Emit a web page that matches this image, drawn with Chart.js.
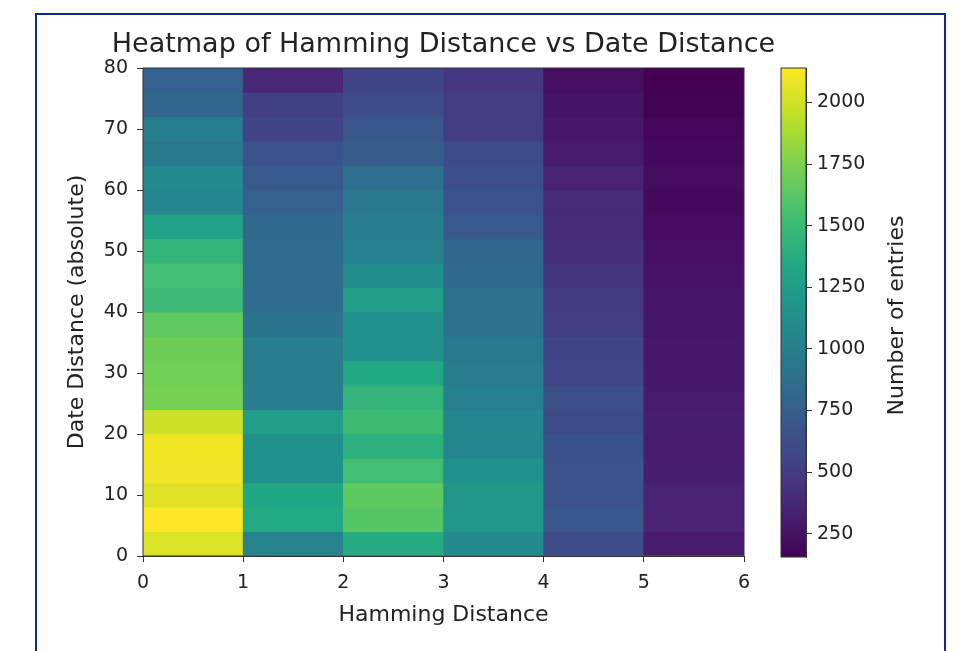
<!DOCTYPE html>
<html>
<head>
<meta charset="utf-8">
<title>Heatmap of Hamming Distance vs Date Distance</title>
<script src="https://cdn.jsdelivr.net/npm/chart.js@4.4.1/dist/chart.umd.min.js"></script>
<style>
  html, body { margin: 0; padding: 0; background: #fff; }
  body { width: 975px; height: 651px; position: relative; overflow: hidden; }
  .frame { position: absolute; left: 35px; top: 13px; width: 907px; height: 700px; border: 2px solid #0b2d7c; }
  .holder { position: absolute; top: 0; height: 651px; }
  #heatWrap { left: 0; width: 975px; }
  #barWrap { left: 760px; width: 215px; }
</style>
</head>
<body>
<div class="frame"></div>
<div class="holder" id="heatWrap"><canvas id="heatmap"></canvas></div>
<div class="holder" id="barWrap"><canvas id="colorbar"></canvas></div>
<script>
// bin edges
const hammingEdges = [0, 1, 2, 3, 4, 5, 6];
const dateEdges = [0, 4, 8, 12, 16, 20, 24, 28, 32, 36, 40, 44, 48, 52, 56, 60, 64, 68, 72, 76, 80];

// counts per Hamming distance bin, date bins from 0 upwards
const countsH0 = [2030, 2140, 2050, 2090, 2100, 1990, 1730, 1710, 1700, 1650, 1490, 1530, 1450, 1290, 1070, 1090, 950, 990, 810, 770];
const countsH1 = [1030, 1360, 1340, 1150, 1150, 1250, 990, 1000, 990, 910, 850, 850, 850, 830, 770, 710, 670, 550, 530, 370];
const countsH2 = [1370, 1610, 1640, 1530, 1410, 1510, 1450, 1350, 1150, 1150, 1250, 1110, 1010, 990, 950, 870, 730, 690, 610, 550];
const countsH3 = [1090, 1190, 1200, 1150, 1070, 1060, 1010, 970, 950, 890, 890, 830, 810, 710, 670, 630, 610, 510, 510, 470];
const countsH4 = [610, 690, 670, 670, 650, 610, 630, 570, 550, 510, 490, 450, 420, 400, 390, 340, 300, 280, 260, 230];
const countsH5 = [300, 350, 340, 320, 310, 320, 300, 290, 280, 270, 270, 250, 230, 220, 200, 210, 200, 180, 160, 155];

const dateTicks = [0, 10, 20, 30, 40, 50, 60, 70, 80];
const colorbarTicks = [250, 500, 750, 1000, 1250, 1500, 1750, 2000];

const TITLE = 'Heatmap of Hamming Distance vs Date Distance';
const X_LABEL = 'Hamming Distance';
const Y_LABEL = 'Date Distance (absolute)';
const CBAR_LABEL = 'Number of entries';

const FONT = 'DejaVu Sans';
const TEXT = '#222';
const AXIS = '#333';

// viridis colormap
const viridisStops = ['#440154', '#482475', '#414487', '#355f8d', '#2a788e', '#21918c',
  '#22a884', '#44bf70', '#7ad151', '#bddf26', '#fde725'];

function hexRgb(h) {
  return [1, 3, 5].map(i => parseInt(h.slice(i, i + 2), 16));
}

function viridis(t) {
  t = Math.min(1, Math.max(0, t));
  const pos = t * (viridisStops.length - 1);
  const i = Math.min(Math.floor(pos), viridisStops.length - 2);
  const f = pos - i;
  const a = hexRgb(viridisStops[i]), b = hexRgb(viridisStops[i + 1]);
  const c = a.map((v, k) => Math.round(v + (b[k] - v) * f));
  return `rgb(${c[0]},${c[1]},${c[2]})`;
}

const columns = [countsH0, countsH1, countsH2, countsH3, countsH4, countsH5];
const allCounts = columns.flat();
const vmin = Math.min(...allCounts);
const vmax = Math.max(...allCounts);

const cells = [];
columns.forEach((col, i) => {
  col.forEach((n, j) => {
    cells.push({
      x: (hammingEdges[i] + hammingEdges[i + 1]) / 2,
      y: [dateEdges[j], dateEdges[j + 1]],
      n: n
    });
  });
});

// thin outline round the plot area, like matplotlib spines
const outlinePlugin = {
  id: 'outline',
  afterDraw(chart) {
    const a = chart.chartArea;
    const ctx = chart.ctx;
    ctx.save();
    ctx.strokeStyle = AXIS;
    ctx.lineWidth = 1;
    ctx.strokeRect(a.left, a.top, a.right - a.left, a.bottom - a.top);
    ctx.restore();
  }
};

// title centred over the plot area, allowed to run wider than it
const plotTitlePlugin = {
  id: 'plotTitle',
  afterDraw(chart) {
    const a = chart.chartArea;
    const ctx = chart.ctx;
    ctx.save();
    ctx.textAlign = 'center';
    ctx.textBaseline = 'middle';
    ctx.fillStyle = TEXT;
    ctx.font = `27px "${FONT}"`;
    ctx.fillText(TITLE, (a.left + a.right) / 2, a.top - 23);
    ctx.restore();
  }
};

new Chart(document.getElementById('heatmap'), {
  type: 'bar',
  data: {
    datasets: [{
      data: cells,
      backgroundColor: cells.map(c => viridis((c.n - vmin) / (vmax - vmin))),
      borderWidth: 0,
      barPercentage: 1,
      categoryPercentage: 1
    }]
  },
  options: {
    responsive: true,
    maintainAspectRatio: false,
    animation: false,
    layout: { padding: { left: 60, right: 231, top: 68, bottom: 19 } },
    plugins: {
      legend: { display: false },
      tooltip: { enabled: false }
    },
    scales: {
      x: {
        type: 'linear',
        min: hammingEdges[0],
        max: hammingEdges[hammingEdges.length - 1],
        offset: false,
        grid: { offset: false, drawOnChartArea: false, tickLength: 6, color: AXIS },
        border: { color: AXIS },
        afterBuildTicks: s => { s.ticks = hammingEdges.map(v => ({ value: v })); },
        ticks: { padding: 10, color: TEXT, maxRotation: 0, autoSkip: false, font: { family: FONT, size: 19 } },
        title: { display: true, text: X_LABEL, color: TEXT, font: { family: FONT, size: 22 }, padding: { top: 4, bottom: 4 } },
        afterFit: s => { s.height = 76; }
      },
      y: {
        type: 'linear',
        min: dateEdges[0],
        max: dateEdges[dateEdges.length - 1],
        grid: { drawOnChartArea: false, tickLength: 6, color: AXIS },
        border: { color: AXIS },
        afterBuildTicks: s => { s.ticks = dateTicks.map(v => ({ value: v })); },
        ticks: { padding: 9, color: TEXT, autoSkip: false, font: { family: FONT, size: 19 } },
        title: { display: true, text: Y_LABEL, color: TEXT, font: { family: FONT, size: 22 }, padding: { top: 4, bottom: 4 } },
        afterFit: s => { s.width = 83; }
      }
    }
  },
  plugins: [outlinePlugin, plotTitlePlugin]
});

// colorbar label reads bottom to top
const cbarLabelPlugin = {
  id: 'cbarLabel',
  afterDraw(chart) {
    const a = chart.chartArea;
    const ctx = chart.ctx;
    ctx.save();
    ctx.translate(137, (a.top + a.bottom) / 2 + 3);
    ctx.rotate(-Math.PI / 2);
    ctx.textAlign = 'center';
    ctx.textBaseline = 'middle';
    ctx.fillStyle = TEXT;
    ctx.font = `22px "${FONT}"`;
    ctx.fillText(CBAR_LABEL, 0, 0);
    ctx.restore();
  }
};

new Chart(document.getElementById('colorbar'), {
  type: 'bar',
  data: {
    labels: [''],
    datasets: [{
      data: [[vmin, vmax]],
      backgroundColor: (c) => {
        const area = c.chart.chartArea;
        if (!area) return viridisStops[0];
        const g = c.chart.ctx.createLinearGradient(0, area.bottom, 0, area.top);
        viridisStops.forEach((col, i) => g.addColorStop(i / (viridisStops.length - 1), col));
        return g;
      },
      borderWidth: 0,
      barPercentage: 1,
      categoryPercentage: 1
    }]
  },
  options: {
    responsive: true,
    maintainAspectRatio: false,
    animation: false,
    layout: { padding: { left: 21, right: 99, top: 68, bottom: 94 } },
    plugins: { legend: { display: false }, tooltip: { enabled: false } },
    scales: {
      x: { display: false },
      y: {
        position: 'right',
        min: vmin,
        max: vmax,
        grid: { drawOnChartArea: false, tickLength: 6, color: AXIS },
        border: { color: AXIS },
        afterBuildTicks: s => { s.ticks = colorbarTicks.map(v => ({ value: v })); },
        ticks: { padding: 5, color: TEXT, autoSkip: false, font: { family: FONT, size: 19 }, callback: v => String(v) },
        afterFit: s => { s.width = 70; }
      }
    }
  },
  plugins: [outlinePlugin, cbarLabelPlugin]
});
</script>
</body>
</html>
